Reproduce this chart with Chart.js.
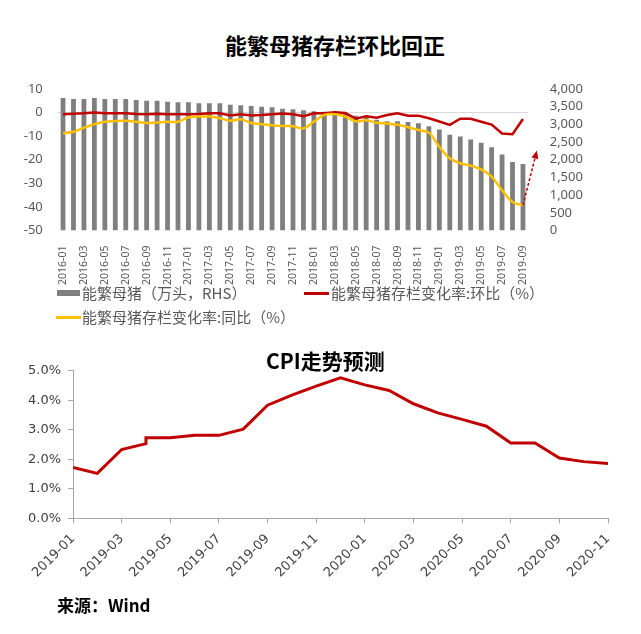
<!DOCTYPE html>
<html>
<head>
<meta charset="utf-8">
<script src="https://cdn.jsdelivr.net/npm/chart.js@4.4.0/dist/chart.umd.min.js"></script>
<style>
body{margin:0;background:#fff;width:641px;height:634px;overflow:hidden;position:relative;font-family:"Noto Sans CJK SC","Noto Sans",sans-serif;}
canvas{position:absolute;left:0;}
.t{position:absolute;white-space:nowrap;line-height:1;}
.title{font-weight:700;color:#000;}
.leg{font-size:15px;color:#595959;}
.key{position:absolute;}
</style>
</head>
<body>
<div class="t title" style="left:225px;top:33px;font-size:22px;">能繁母猪存栏环比回正</div>
<canvas id="sows" width="641" height="340" style="top:0;"></canvas>

<div class="key" style="left:57px;top:290px;width:23px;height:6px;background:#7f7f7f;"></div>
<div class="t leg" style="left:82px;top:285px;">能繁母猪（万头，RHS）</div>
<div class="key" style="left:304px;top:292px;width:25px;height:2.5px;background:#c00000;"></div>
<div class="t leg" style="left:331px;top:285px;">能繁母猪存栏变化率:环比（%）</div>
<div class="key" style="left:56px;top:316px;width:25px;height:2.5px;background:#ffc000;"></div>
<div class="t leg" style="left:82px;top:309px;">能繁母猪存栏变化率:同比（%）</div>

<canvas id="cpi" width="641" height="294" style="top:340px;"></canvas>
<div class="t title" style="left:266px;top:350px;font-size:21px;">CPI走势预测</div>
<div class="t" style="left:57px;top:596px;font-size:17px;font-weight:700;color:#000;">来源：Wind</div>

<script>
'use strict';
// top chart: sows
const sow_months = [
    '2016-01','2016-02','2016-03','2016-04','2016-05','2016-06','2016-07','2016-08','2016-09','2016-10','2016-11','2016-12',
    '2017-01','2017-02','2017-03','2017-04','2017-05','2017-06','2017-07','2017-08','2017-09','2017-10','2017-11','2017-12',
    '2018-01','2018-02','2018-03','2018-04','2018-05','2018-06','2018-07','2018-08','2018-09','2018-10','2018-11','2018-12',
    '2019-01','2019-02','2019-03','2019-04','2019-05','2019-06','2019-07','2019-08','2019-09'
];
// 万头, right axis
const sow_stock = [
    3746, 3719, 3719, 3746, 3719, 3719, 3719, 3690, 3670, 3670, 3641, 3622,
    3622, 3594, 3594, 3594, 3557, 3540, 3519, 3500, 3481, 3444, 3425, 3397,
    3369, 3360, 3360, 3322, 3247, 3200, 3134, 3087, 3087, 3068, 3030, 2946,
    2852, 2710, 2654, 2569, 2484, 2353, 2145, 1939, 1882
];
// 环比 %
const sow_mom = [
    -0.7, -0.5, -0.3, 0.0, -0.3, -0.3, -0.3, -0.6, -0.7, -0.5, -0.7, -0.7,
    -0.7, -0.6, -0.3, -0.3, -1.2, -0.7, -1.2, -1.0, -0.7, -0.4, -0.7, -1.5,
    -0.3, -0.3, 0.1, -0.2, -2.6, -1.6, -2.2, -1.0, -0.3, -1.3, -1.3, -2.4,
    -3.8, -5.2, -2.6, -2.6, -3.9, -5.1, -8.9, -9.2, -2.7
];
// 同比 %
const sow_yoy = [
    -8.8, -8.1, -6.4, -4.9, -3.9, -3.6, -3.5, -3.9, -4.4, -4.2, -3.9, -3.9,
    -2.0, -1.7, -1.7, -2.4, -3.5, -2.8, -4.4, -4.9, -5.4, -5.7, -5.8, -6.7,
    -3.8, -1.0, -0.7, -1.7, -3.7, -3.3, -4.3, -4.6, -5.2, -6.2, -7.4, -8.5,
    -14.5, -19.4, -21.5, -22.5, -24.1, -27.2, -32.9, -37.9, -39.3
];
// arrow tip, in (month index, 同比 %) units
const arrow_tip = [45.33, -16.1];

// bottom chart: cpi (2019-04 shows a step, so it is listed twice)
const cpi_axis = [
    '2019-01','2019-02','2019-03','2019-04','2019-05','2019-06','2019-07','2019-08','2019-09','2019-10','2019-11','2019-12',
    '2020-01','2020-02','2020-03','2020-04','2020-05','2020-06','2020-07','2020-08','2020-09','2020-10','2020-11'
];
const cpi_months = [
    '2019-01','2019-02','2019-03','2019-04','2019-04','2019-05','2019-06','2019-07','2019-08','2019-09','2019-10','2019-11','2019-12',
    '2020-01','2020-02','2020-03','2020-04','2020-05','2020-06','2020-07','2020-08','2020-09','2020-10','2020-11'
];
const cpi_values = [
    1.72, 1.52, 2.33, 2.53, 2.73, 2.73, 2.81, 2.81, 3.02, 3.83, 4.17, 4.48, 4.76,
    4.52, 4.33, 3.88, 3.57, 3.35, 3.12, 2.55, 2.55, 2.04, 1.92, 1.86
];

//dashed arrow from last 同比 point
const arrow_plugin = {
    id: 'arrow',
    afterDatasetsDraw: function(chart){
        const xs = chart.scales.x;
        const ys = chart.scales.y;
        const x0 = xs.getPixelForValue(sow_yoy.length - 1);
        const y0 = ys.getPixelForValue(sow_yoy[sow_yoy.length - 1]);
        const x1 = xs.getPixelForValue(arrow_tip[0]);
        const y1 = ys.getPixelForValue(arrow_tip[1]);
        const a = Math.atan2(y1 - y0, x1 - x0);
        const ctx = chart.ctx;
        ctx.save();
        ctx.strokeStyle = '#c00000';
        ctx.fillStyle = '#c00000';
        ctx.lineWidth = 1.5;
        ctx.setLineDash([3, 2]);
        ctx.beginPath();
        ctx.moveTo(x0, y0);
        ctx.lineTo(x1 - 6 * Math.cos(a), y1 - 6 * Math.sin(a));
        ctx.stroke();
        ctx.setLineDash([]);
        ctx.beginPath();
        ctx.moveTo(x1, y1);
        ctx.lineTo(x1 - 8 * Math.cos(a) + 3.5 * Math.sin(a), y1 - 8 * Math.sin(a) - 3.5 * Math.cos(a));
        ctx.lineTo(x1 - 8 * Math.cos(a) - 3.5 * Math.sin(a), y1 - 8 * Math.sin(a) + 3.5 * Math.cos(a));
        ctx.closePath();
        ctx.fill();
        ctx.restore();
    }
};

const grey = '#595959';

new Chart(document.getElementById('sows'), {
    type: 'bar',
    data: {
        labels: sow_months,
        datasets: [
            {type: 'line', label: '能繁母猪存栏变化率:同比（%）', data: sow_yoy, yAxisID: 'y', borderColor: '#ffc000', borderWidth: 2.5, pointRadius: 0, tension: 0.35, order: 0},
            {type: 'line', label: '能繁母猪存栏变化率:环比（%）', data: sow_mom, yAxisID: 'y', borderColor: '#c00000', borderWidth: 2.5, pointRadius: 0, tension: 0, order: 1},
            {type: 'bar', label: '能繁母猪（万头，RHS）', data: sow_stock, yAxisID: 'y1', backgroundColor: '#7f7f7f', barPercentage: 0.46, categoryPercentage: 1, order: 2}
        ]
    },
    options: {
        responsive: false,
        animation: false,
        layout: {padding: {top: 89, right: 0, bottom: 0, left: 0}},
        plugins: {legend: {display: false}, tooltip: {enabled: false}},
        scales: {
            x: {
                offset: true,
                grid: {display: false},
                border: {display: false},
                ticks: {
                    autoSkip: false, minRotation: 90, maxRotation: 90, padding: 7,
                    color: grey, font: {family: 'Noto Sans', size: 10.5},
                    callback: function(v, i){ return i % 2 === 0 ? this.getLabelForValue(v) : ''; }
                },
                afterFit: function(s){ s.height = 109.5; }
            },
            y: {
                position: 'left', min: -50, max: 10,
                ticks: {stepSize: 10, autoSkip: false, padding: 15, color: grey, font: {family: 'Noto Sans', size: 13}},
                grid: {drawTicks: false, color: (c) => (c.tick && c.tick.value === 0 ? '#d9d9d9' : 'rgba(0,0,0,0)')},
                border: {display: false},
                afterFit: function(s){ s.width = 57.8; }
            },
            y1: {
                position: 'right', min: 0, max: 4000,
                ticks: {stepSize: 500, autoSkip: false, padding: 13.5, color: grey, font: {family: 'Noto Sans', size: 13}, callback: (v) => v.toLocaleString('en-US')},
                grid: {display: false},
                border: {display: false},
                afterFit: function(s){ s.width = 112.8; }
            }
        }
    },
    plugins: [arrow_plugin]
});

new Chart(document.getElementById('cpi'), {
    type: 'line',
    data: {
        datasets: [{
            data: cpi_months.map((m, i) => ({x: cpi_axis.indexOf(m), y: cpi_values[i]})),
            borderColor: '#c00000', borderWidth: 3, pointRadius: 0, tension: 0
        }]
    },
    options: {
        responsive: false,
        animation: false,
        layout: {padding: {top: 30.7, right: 33, bottom: 40.7, left: 0}},
        plugins: {legend: {display: false}, tooltip: {enabled: false}},
        scales: {
            x: {
                type: 'linear', min: 0, max: cpi_axis.length - 1,
                ticks: {
                    stepSize: 2, autoSkip: false, minRotation: 45, maxRotation: 45, padding: 8,
                    color: '#404040', font: {family: 'DejaVu Sans', size: 13},
                    callback: (v) => cpi_axis[v]
                },
                grid: {drawOnChartArea: false, tickLength: 5, color: '#a6a6a6'},
                border: {color: '#a6a6a6'},
                afterFit: function(s){ s.height = 75; }
            },
            y: {
                min: 0, max: 5,
                ticks: {stepSize: 1, padding: 7, color: '#404040', font: {family: 'DejaVu Sans', size: 13}, callback: (v) => v.toFixed(1) + '%'},
                grid: {drawOnChartArea: false, tickLength: 5, color: '#a6a6a6'},
                border: {color: '#a6a6a6'},
                afterFit: function(s){ s.width = 73; }
            }
        }
    }
});
</script>
</body>
</html>
